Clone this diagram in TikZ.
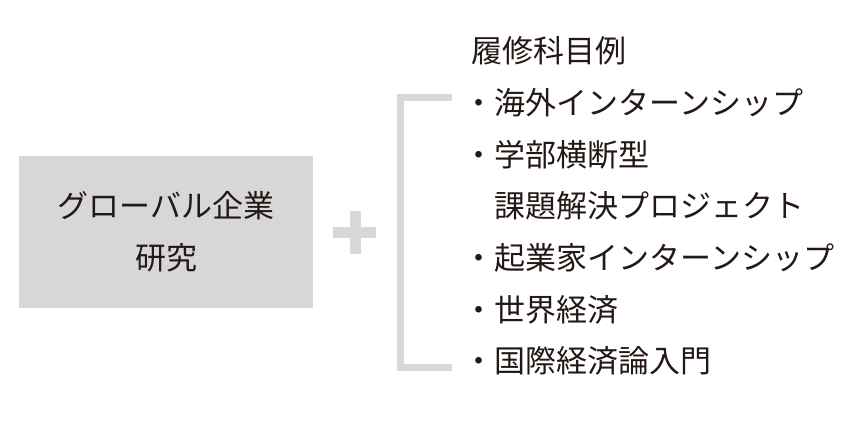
\documentclass[tikz,border=0pt]{standalone}
\usepackage{fontspec}
\newfontfamily\jp{Noto Sans CJK JP}
\definecolor{boxgray}{RGB}{215,215,215}
\definecolor{lightgray2}{RGB}{216,216,216}
\definecolor{ink}{HTML}{231815}
\begin{document}
\begin{tikzpicture}[x=1pt,y=-1pt,
  txt/.style={inner sep=0pt, font=\jp\fontsize{31}{31}\selectfont, text=ink,
              text height=27.3pt, text depth=3.7pt},
  item/.style={txt, anchor=west},
  boxstyle/.style={fill=boxgray, draw=none, minimum width=294pt, minimum height=152pt, inner sep=0pt},
  bar/.style={draw=lightgray2, line width=11pt},
  bracketline/.style={draw=lightgray2, line width=7pt, miter limit=10}]
\useasboundingbox (0,0) rectangle (850,426);
% left box
\node[boxstyle] (box) at (166,232) {};
\node[txt] (boxl1) at (166,206) {グローバル企業};
\node[txt] (boxl2) at (166,258) {研究};
% plus sign
\coordinate (plus) at (355,232.5);
\draw[bar] ([xshift=-22pt]plus) -- ([xshift=21pt]plus);
\draw[bar] ([yshift=-21.5pt]plus) -- ([yshift=21.5pt]plus);
% bracket
\coordinate (btop) at (452,97);
\coordinate (bbot) at (452,367.5);
\draw[bracketline] (btop) -- (400.5,97) -- (400.5,367.5) -- (bbot);
% list
\node[item] (title) at (471,51) {履修科目例};
\node[item] (i1) at (463.5,102.7) {・海外インターンシップ};
\node[item] (i2) at (463.5,154.3) {・学部横断型};
\node[item] (i2b) at (494,206) {課題解決プロジェクト};
\node[item] (i3) at (463.5,257.7) {・起業家インターンシップ};
\node[item] (i4) at (463.5,309.3) {・世界経済};
\node[item] (i5) at (463.5,361) {・国際経済論入門};
\end{tikzpicture}
\end{document}
